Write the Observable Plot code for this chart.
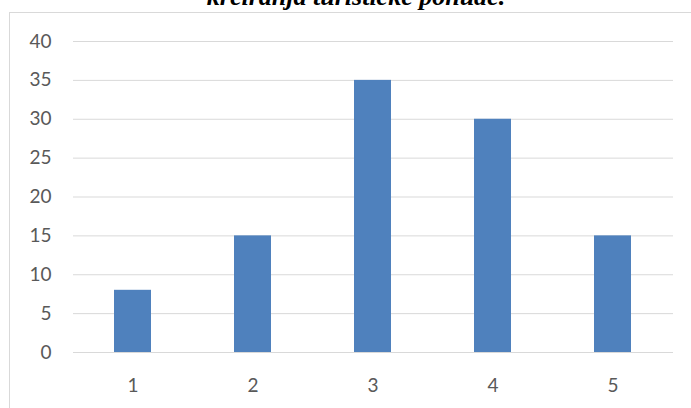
<!DOCTYPE html>
<html>
<head>
<meta charset="utf-8">
<script src="https://cdn.jsdelivr.net/npm/d3@7"></script>
<script src="https://cdn.jsdelivr.net/npm/@observablehq/plot@0.6"></script>
<style>
  html, body { margin: 0; padding: 0; background: #fff; width: 691px; height: 408px; overflow: hidden; }
  #wrap { position: relative; width: 691px; height: 408px; overflow: hidden; }
  #frame { position: absolute; left: 9px; top: 12px; width: 700px; height: 420px; border: 1px solid #d9d9d9; box-sizing: border-box; }
  #title { position: absolute; left: 0; width: 712px; top: -16px; text-align: center; font-family: "Liberation Serif", serif; font-weight: bold; font-style: italic; font-size: 26px; line-height: 26px; color: #000; white-space: nowrap; }
  #chart { position: absolute; left: 0; top: 0; }
</style>
</head>
<body>
<div id="wrap">
  <div id="title">kreiranja turističke ponude.</div>
  <div id="frame"></div>
  <div id="chart"></div>
</div>
<script>
const categories = ["1", "2", "3", "4", "5"];
const values = [8, 15, 35, 30, 15];
const yTicks = [0, 5, 10, 15, 20, 25, 30, 35, 40];

const data = categories.map((c, i) => ({category: c, value: values[i]}));

const chart = Plot.plot({
  width: 691,
  height: 408,
  marginLeft: 73,
  marginRight: 18,
  marginTop: 41,
  marginBottom: 56,
  style: {fontFamily: "Lato, sans-serif", fontSize: "19px", color: "#595959", background: "transparent"},
  x: {domain: categories, paddingInner: 0.69, paddingOuter: 0.345, label: null},
  y: {domain: [0, 40], label: null},
  marks: [
    Plot.ruleY(yTicks, {stroke: "#d9d9d9", strokeWidth: 1}),
    Plot.barY(data, {x: "category", y: "value", fill: "#4f81bd"}),
    Plot.axisY({ticks: yTicks, tickSize: 0, tickPadding: 22, label: null, fill: "#595959", fontSize: 19}),
    Plot.axisX({tickSize: 0, tickPadding: 26, label: null, fill: "#595959", fontSize: 19})
  ]
});
document.getElementById("chart").appendChild(chart);
</script>
</body>
</html>
